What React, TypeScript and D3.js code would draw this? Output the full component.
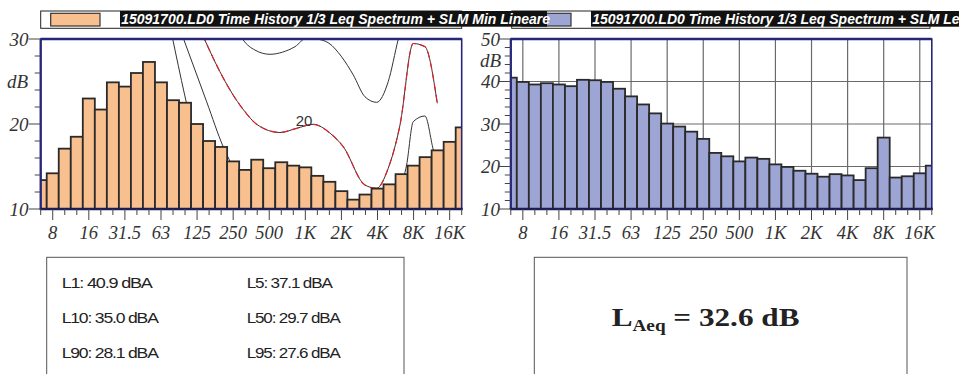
import React from 'react';
import * as d3 from 'd3';

// 1/3-octave band centres (6.3 Hz .. 20 kHz)
const bands = ['6.3','8','10','12.5','16','20','25','31.5','40','50','63','80','100','125','160','200','250','315','400','500','630','800','1K','1.25K','1.6K','2K','2.5K','3.15K','4K','5K','6.3K','8K','10K','12.5K','16K','20K'];
const tickLabels = ['8','16','31.5','63','125','250','500','1K','2K','4K','8K','16K'];

// SLM Min Lineare spectrum (dB)
const minSpectrum = [13.4,14.2,17.1,18.5,23.0,21.7,24.9,24.4,26.0,27.3,24.9,22.8,22.5,20.0,18.0,17.3,15.6,14.6,15.8,14.8,15.5,15.1,14.9,13.9,13.2,12.1,11.1,11.7,12.4,12.9,14.1,15.1,16.1,16.9,17.9,19.6];
// Leq spectrum (dB)
const leqSpectrum = [40.9,39.9,39.3,39.6,39.3,38.9,40.4,40.3,39.9,38.3,36.5,34.6,32.5,30.1,29.4,28.2,26.5,23.2,22.4,21.2,22.1,21.8,20.5,19.9,19.0,18.3,17.6,18.2,17.9,16.8,19.6,26.8,17.4,17.7,18.4,20.2];

// contour curves on the left panel: [band position, dB]
const contourA: [number, number][] = [[10.9,30.5],[11.97,23.4],[12.83,18.1],[13.66,12.8]];
const contourB: [number, number][] = [[11.75,30.5],[13.8,22.6],[15.18,17.3],[15.74,15.6],[16.6,13.0]];
const contourC: [number, number][] = [[13.45,30.5],[14.9,26.15],[15.74,24.0],[16.98,21.45],[17.96,19.96],[19.89,19.0],[21.28,19.49],[22.66,19.96],[24.04,18.94],[25.15,17.33],[26.96,12.82],[27.93,12.44],[28.89,14.79],[29.87,19.88],[30.97,29.47],[31.94,29.1],[32.97,22.44]];
const contourD: [number, number][] = [[16.2,31.5],[16.84,29.88],[17.81,28.7],[19.06,28.2],[20.1,28.45],[21.14,29.1],[22.1,30.1],[22.94,30.0],[23.97,29.5],[25.02,27.9],[25.99,25.76],[26.96,23.2],[27.93,22.55],[28.89,24.98],[29.73,30.0],[30.03,31.6]];
const contourE: [number, number][] = [[29.9,12.5],[30.42,15.18],[30.97,20.27],[31.94,20.94],[32.64,16.94],[33.1,14.5]];

const statsLeft = [['L1', '40.9'], ['L10', '35.0'], ['L90', '28.1']];
const statsRight = [['L5', '37.1'], ['L50', '29.7'], ['L95', '27.6']];
const statsLeftWidths = [90, 96, 96];
const statsRightWidths = [85, 93, 93];
const laeq = '32.6';

const legendTitle1 = '15091700.LD0 Time History 1/3 Leq Spectrum + SLM Min Lineare';
const legendTitle2 = '15091700.LD0 Time History 1/3 Leq Spectrum + SLM Leq Lineare';

const W = 959, H = 374;
const TOP = 39, BOTTOM = 209;
const NAVY = '#26267a';
const ORANGE = '#f9c08f';
const LAVENDER = '#9ca5d4';
const SERIF = '"Liberation Serif", "Times New Roman", serif';
const SANS = '"Liberation Sans", Arial, sans-serif';

type PanelProps = {
  id: string; left: number; right: number; domain: [number, number];
  values: number[]; fill: string; grid: boolean; labelX: number; dbX: number; dbY: number;
  contours?: boolean;
};

function Panel({ id, left, right, domain, values, fill, grid, labelX, dbX, dbY, contours }: PanelProps) {
  const x = d3.scaleLinear().domain([0, bands.length - 1]).range([left, right]);
  const y = d3.scaleLinear().domain(domain).range([BOTTOM, TOP]);
  const step = x(1) - x(0);
  const minorY = d3.range(domain[0], domain[1] + 0.001, 2);
  const majorY = d3.range(domain[0], domain[1] + 0.001, 10);
  const line = d3.line<[number, number]>().x(d => x(d[0])).y(d => y(d[1])).curve(d3.curveMonotoneX);
  const majorIdx = tickLabels.map(t => bands.indexOf(t));
  return (
    <g>
      <defs>
        <clipPath id={id}>
          <rect x={left} y={TOP} width={right - left} height={BOTTOM - TOP} />
        </clipPath>
      </defs>
      <rect x={left} y={TOP} width={right - left} height={BOTTOM - TOP} fill="#fff" />
      {grid && (
        <g stroke="#6a6a6a" strokeWidth={1.2}>
          {majorY.filter(v => v > domain[0] && v < domain[1]).map(v => (
            <line key={'h' + v} x1={left} x2={right} y1={y(v)} y2={y(v)} />
          ))}
          {majorIdx.map(i => (
            <line key={'v' + i} x1={x(i)} x2={x(i)} y1={TOP} y2={BOTTOM} />
          ))}
        </g>
      )}
      {contours && (
        <g clipPath={`url(#${id})`} fill="none">
          {[contourA, contourB, contourD, contourE].map((c, k) => (
            <path key={k} d={line(c) || ''} stroke="#333" strokeWidth={1} />
          ))}
          <path d={line(contourC) || ''} stroke="#333" strokeWidth={1} />
          <path d={line(contourC) || ''} stroke="#e0202a" strokeWidth={1.2} strokeDasharray="7,4" />
          <text x={x(21.9)} y={y(19.8)} fontFamily={SANS} fontSize={15} fill="#333" textAnchor="middle">20</text>
        </g>
      )}
      <g clipPath={`url(#${id})`}>
        {values.map((v, i) => (
          <rect key={i} x={x(i) - step / 2} y={y(v)} width={step} height={y(domain[0]) - y(v)}
            fill={fill} stroke="#2a2a2a" strokeWidth={1.8} />
        ))}
      </g>
      {/* frame */}
      <rect x={left} y={TOP} width={right - left} height={BOTTOM - TOP} fill="none" stroke={NAVY} strokeWidth={1.6} />
      <line x1={left} x2={right} y1={TOP} y2={TOP} stroke={NAVY} strokeWidth={2.4} />
      <line x1={left} x2={left} y1={TOP} y2={BOTTOM} stroke={NAVY} strokeWidth={2.2} />
      <line x1={left - 1} x2={right + 1} y1={BOTTOM} y2={BOTTOM} stroke="#1d1d55" strokeWidth={2.4} />
      {/* y ticks */}
      <g stroke="#444" strokeWidth={1}>
        {minorY.map(v => {
          const major = v % 10 === 0;
          return <line key={v} x1={left - (major ? 12 : 6)} x2={left} y1={y(v)} y2={y(v)} />;
        })}
      </g>
      <g fontFamily={SERIF} fontStyle="italic" fontSize={19} fill="#333" textAnchor="end">
        {majorY.map(v => (
          <text key={v} x={labelX} y={y(v) + 6.5}>{v}</text>
        ))}
      </g>
      <text x={dbX} y={dbY} fontFamily={SERIF} fontStyle="italic" fontSize={19} fill="#333">dB</text>
      {/* x ticks */}
      <g stroke="#444" strokeWidth={1}>
        {bands.map((b, i) => {
          const major = tickLabels.includes(b);
          return <line key={b} x1={x(i)} x2={x(i)} y1={BOTTOM} y2={BOTTOM + (major ? 11 : 6)} />;
        })}
      </g>
      <g fontFamily={SERIF} fontStyle="italic" fontSize={18.5} fill="#333" textAnchor="middle">
        {majorIdx.map((i, k) => (
          <text key={k} x={x(i)} y={239}>{tickLabels[k]}</text>
        ))}
      </g>
    </g>
  );
}

function Legend({ left, right, fill, title }: { left: number; right: number; fill: string; title: string }) {
  return (
    <g>
      <rect x={left} y={11} width={right - left} height={17.3} fill="#fff" stroke="#222" strokeWidth={1} />
      <rect x={left + 10} y={13.3} width={49.3} height={12.7} fill={fill} stroke="#333" strokeWidth={1.2} />
      <rect x={left + 79.3} y={11} width={title.length * 7.05 + 4} height={15.7} fill="#111" />
      <text x={left + 80.5} y={24} fontFamily={SANS} fontWeight="bold" fontStyle="italic" fontSize={14} fill="#fff">{title}</text>
    </g>
  );
}

export default function App() {
  React.useEffect(() => { document.body.style.margin = '0'; }, []);
  return (
    <svg width={W} height={H} viewBox={`0 0 ${W} ${H}`} style={{ display: 'block', position: 'absolute', left: 0, top: 0 }}>
      <rect width={W} height={H} fill="#fff" />
      <Legend left={511.7} right={930} fill={LAVENDER} title={legendTitle2} />
      <Legend left={40.7} right={461.7} fill={ORANGE} title={legendTitle1} />
      <Panel id="clipL" left={40.7} right={461.7} domain={[10, 30]} values={minSpectrum} fill={ORANGE}
        grid={false} labelX={28.5} dbX={7} dbY={88} contours />
      <Panel id="clipR" left={510.8} right={931.8} domain={[10, 50]} values={leqSpectrum} fill={LAVENDER}
        grid labelX={500} dbX={480} dbY={66.5} />
      {/* statistics box */}
      <rect x={46.7} y={257.3} width={357.3} height={140} fill="none" stroke="#555" strokeWidth={1} />
      <g fontFamily={SANS} fontSize={15} fill="#222" letterSpacing={-1}>
        {statsLeft.map((s, k) => (
          <text key={s[0]} x={61.7} y={287.5 + k * 35} textLength={statsLeftWidths[k]} lengthAdjust="spacingAndGlyphs">{`${s[0]}: ${s[1]} dBA`}</text>
        ))}
        {statsRight.map((s, k) => (
          <text key={s[0]} x={246.7} y={287.5 + k * 35} textLength={statsRightWidths[k]} lengthAdjust="spacingAndGlyphs">{`${s[0]}: ${s[1]} dBA`}</text>
        ))}
      </g>
      <rect x={534.3} y={257.3} width={372.7} height={140} fill="none" stroke="#555" strokeWidth={1} />
      <text transform="translate(611.7,326) scale(1.2,1)" fontFamily={SERIF} fontWeight="bold" fontSize={26} fill="#222">
        L<tspan fontSize={16} dy={5}>Aeq</tspan><tspan dy={-5}>{` = ${laeq} dB`}</tspan>
      </text>
    </svg>
  );
}
